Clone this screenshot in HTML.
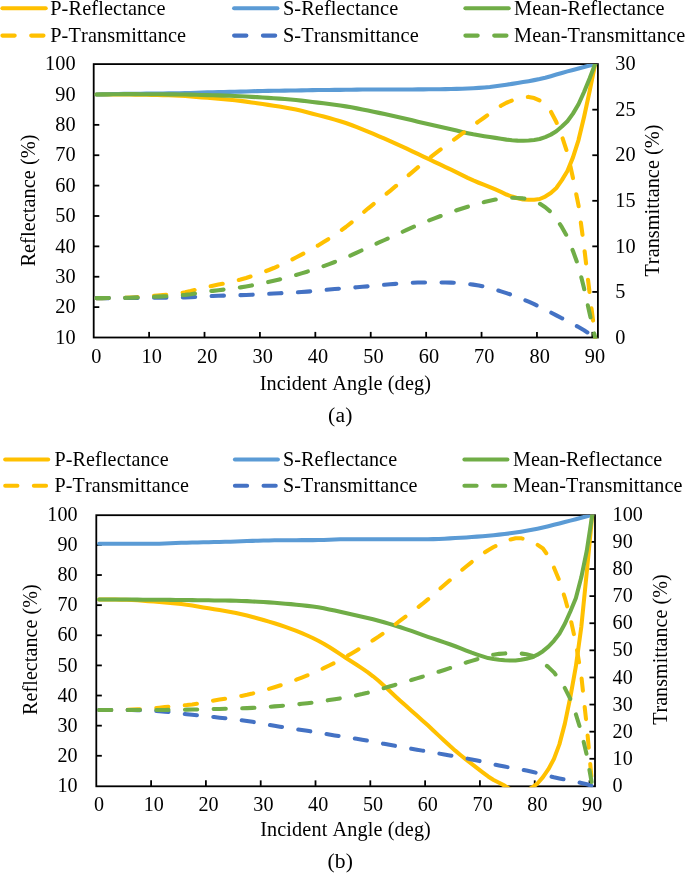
<!DOCTYPE html>
<html><head><meta charset="utf-8"><title>Reflectance and Transmittance</title>
<style>
html,body{margin:0;padding:0;background:#fff;}
svg{display:block;}
text{font-family:'Liberation Serif', 'Times New Roman', serif;fill:#000;font-kerning:none;}
</style></head>
<body>
<svg width="685" height="874" viewBox="0 0 685 874" style="will-change:transform">
<line x1="2.4" y1="8.3" x2="45.70" y2="8.3" stroke="#FFC000" stroke-width="4.1" stroke-linecap="round"/>
<line x1="2.4" y1="35.6" x2="43.70" y2="35.6" stroke="#FFC000" stroke-width="4.1" stroke-linecap="round" stroke-dasharray="12.30 16.50"/>
<text x="50.2" y="14.95" font-size="20.3" text-anchor="start" letter-spacing="0.13" >P-Reflectance</text>
<text x="50.2" y="41.8" font-size="20.3" text-anchor="start" letter-spacing="0.13" >P-Transmittance</text>
<line x1="234.1" y1="8.3" x2="277.40" y2="8.3" stroke="#5B9BD5" stroke-width="4.1" stroke-linecap="round"/>
<line x1="234.1" y1="35.6" x2="275.40" y2="35.6" stroke="#4472C4" stroke-width="4.1" stroke-linecap="round" stroke-dasharray="12.30 16.50"/>
<text x="282.9" y="14.95" font-size="20.3" text-anchor="start" letter-spacing="0.13" >S-Reflectance</text>
<text x="282.9" y="41.8" font-size="20.3" text-anchor="start" letter-spacing="0.13" >S-Transmittance</text>
<line x1="465.4" y1="8.3" x2="508.70" y2="8.3" stroke="#70AD47" stroke-width="4.1" stroke-linecap="round"/>
<line x1="465.4" y1="35.6" x2="506.70" y2="35.6" stroke="#70AD47" stroke-width="4.1" stroke-linecap="round" stroke-dasharray="12.30 16.50"/>
<text x="514.0" y="14.95" font-size="20.3" text-anchor="start" letter-spacing="0.13" >Mean-Reflectance</text>
<text x="514.0" y="41.8" font-size="20.3" text-anchor="start" letter-spacing="0.13" >Mean-Transmittance</text>
<rect x="93.7" y="64.10" width="504.20" height="273.40" fill="none" stroke="#000" stroke-width="1.8"/>
<text x="75.7" y="343.7" font-size="20.3" text-anchor="end" letter-spacing="0.13" >10</text>
<line x1="93.7" y1="307.12" x2="99.30" y2="307.12" stroke="#000" stroke-width="1.8"/>
<text x="75.7" y="313.32" font-size="20.3" text-anchor="end" letter-spacing="0.13" >20</text>
<line x1="93.7" y1="276.74" x2="99.30" y2="276.74" stroke="#000" stroke-width="1.8"/>
<text x="75.7" y="282.94" font-size="20.3" text-anchor="end" letter-spacing="0.13" >30</text>
<line x1="93.7" y1="246.37" x2="99.30" y2="246.37" stroke="#000" stroke-width="1.8"/>
<text x="75.7" y="252.57" font-size="20.3" text-anchor="end" letter-spacing="0.13" >40</text>
<line x1="93.7" y1="215.99" x2="99.30" y2="215.99" stroke="#000" stroke-width="1.8"/>
<text x="75.7" y="222.19" font-size="20.3" text-anchor="end" letter-spacing="0.13" >50</text>
<line x1="93.7" y1="185.61" x2="99.30" y2="185.61" stroke="#000" stroke-width="1.8"/>
<text x="75.7" y="191.81" font-size="20.3" text-anchor="end" letter-spacing="0.13" >60</text>
<line x1="93.7" y1="155.23" x2="99.30" y2="155.23" stroke="#000" stroke-width="1.8"/>
<text x="75.7" y="161.43" font-size="20.3" text-anchor="end" letter-spacing="0.13" >70</text>
<line x1="93.7" y1="124.86" x2="99.30" y2="124.86" stroke="#000" stroke-width="1.8"/>
<text x="75.7" y="131.06" font-size="20.3" text-anchor="end" letter-spacing="0.13" >80</text>
<line x1="93.7" y1="94.48" x2="99.30" y2="94.48" stroke="#000" stroke-width="1.8"/>
<text x="75.7" y="100.68" font-size="20.3" text-anchor="end" letter-spacing="0.13" >90</text>
<text x="75.7" y="70.3" font-size="20.3" text-anchor="end" letter-spacing="0.13" >100</text>
<text x="615.3" y="343.7" font-size="20.3" text-anchor="start" letter-spacing="0.13" >0</text>
<line x1="597.9" y1="291.93" x2="592.30" y2="291.93" stroke="#000" stroke-width="1.8"/>
<text x="615.3" y="298.13" font-size="20.3" text-anchor="start" letter-spacing="0.13" >5</text>
<line x1="597.9" y1="246.37" x2="592.30" y2="246.37" stroke="#000" stroke-width="1.8"/>
<text x="615.3" y="252.57" font-size="20.3" text-anchor="start" letter-spacing="0.13" >10</text>
<line x1="597.9" y1="200.80" x2="592.30" y2="200.80" stroke="#000" stroke-width="1.8"/>
<text x="615.3" y="207.0" font-size="20.3" text-anchor="start" letter-spacing="0.13" >15</text>
<line x1="597.9" y1="155.23" x2="592.30" y2="155.23" stroke="#000" stroke-width="1.8"/>
<text x="615.3" y="161.43" font-size="20.3" text-anchor="start" letter-spacing="0.13" >20</text>
<line x1="597.9" y1="109.67" x2="592.30" y2="109.67" stroke="#000" stroke-width="1.8"/>
<text x="615.3" y="115.87" font-size="20.3" text-anchor="start" letter-spacing="0.13" >25</text>
<text x="615.3" y="70.3" font-size="20.3" text-anchor="start" letter-spacing="0.13" >30</text>
<text x="96.47" y="362.5" font-size="20.3" text-anchor="middle" letter-spacing="0.13" >0</text>
<line x1="149.11" y1="337.5" x2="149.11" y2="331.90" stroke="#000" stroke-width="1.8"/>
<text x="151.88" y="362.5" font-size="20.3" text-anchor="middle" letter-spacing="0.13" >10</text>
<line x1="204.51" y1="337.5" x2="204.51" y2="331.90" stroke="#000" stroke-width="1.8"/>
<text x="207.28" y="362.5" font-size="20.3" text-anchor="middle" letter-spacing="0.13" >20</text>
<line x1="259.92" y1="337.5" x2="259.92" y2="331.90" stroke="#000" stroke-width="1.8"/>
<text x="262.69" y="362.5" font-size="20.3" text-anchor="middle" letter-spacing="0.13" >30</text>
<line x1="315.33" y1="337.5" x2="315.33" y2="331.90" stroke="#000" stroke-width="1.8"/>
<text x="318.1" y="362.5" font-size="20.3" text-anchor="middle" letter-spacing="0.13" >40</text>
<line x1="370.73" y1="337.5" x2="370.73" y2="331.90" stroke="#000" stroke-width="1.8"/>
<text x="373.5" y="362.5" font-size="20.3" text-anchor="middle" letter-spacing="0.13" >50</text>
<line x1="426.14" y1="337.5" x2="426.14" y2="331.90" stroke="#000" stroke-width="1.8"/>
<text x="428.91" y="362.5" font-size="20.3" text-anchor="middle" letter-spacing="0.13" >60</text>
<line x1="481.55" y1="337.5" x2="481.55" y2="331.90" stroke="#000" stroke-width="1.8"/>
<text x="484.32" y="362.5" font-size="20.3" text-anchor="middle" letter-spacing="0.13" >70</text>
<line x1="536.95" y1="337.5" x2="536.95" y2="331.90" stroke="#000" stroke-width="1.8"/>
<text x="539.72" y="362.5" font-size="20.3" text-anchor="middle" letter-spacing="0.13" >80</text>
<line x1="592.36" y1="337.5" x2="592.36" y2="331.90" stroke="#000" stroke-width="1.8"/>
<text x="595.13" y="362.5" font-size="20.3" text-anchor="middle" letter-spacing="0.13" >90</text>
<clipPath id="clipa"><rect x="90.70" y="64.10" width="510.20" height="274.30"/></clipPath>
<g clip-path="url(#clipa)" fill="none" stroke-width="4.10" stroke-linecap="round" stroke-linejoin="round">
<path d="M96.47,94.48 L102.01,94.48 L107.55,94.48 L113.09,94.48 L118.63,94.48 L124.17,94.48 L129.71,94.51 L135.25,94.58 L140.80,94.69 L146.34,94.81 L151.88,94.93 L157.42,95.05 L162.96,95.18 L168.50,95.32 L174.04,95.49 L179.58,95.69 L185.12,95.98 L190.66,96.38 L196.20,96.85 L201.74,97.34 L207.28,97.82 L212.82,98.27 L218.36,98.72 L223.91,99.19 L229.45,99.69 L234.99,100.25 L240.53,100.89 L246.07,101.62 L251.61,102.41 L257.15,103.22 L262.69,104.05 L268.23,104.86 L273.77,105.67 L279.31,106.53 L284.85,107.44 L290.39,108.45 L295.93,109.59 L301.47,110.87 L307.02,112.25 L312.56,113.68 L318.10,115.13 L323.64,116.59 L329.18,118.08 L334.72,119.63 L340.26,121.27 L345.80,123.03 L351.34,124.98 L356.88,127.10 L362.42,129.34 L367.96,131.65 L373.50,133.97 L379.04,136.30 L384.58,138.70 L390.13,141.13 L395.67,143.61 L401.21,146.12 L406.75,148.67 L412.29,151.27 L417.83,153.90 L423.37,156.55 L428.91,159.18 L434.45,161.81 L439.99,164.43 L445.53,167.06 L451.07,169.70 L456.61,172.36 L462.15,175.07 L467.69,177.85 L473.24,180.45 L478.78,182.73 L484.32,184.89 L489.86,187.14 L495.40,189.47 L500.94,191.88 L506.48,194.53 L512.02,196.56 L517.56,198.29 L523.10,199.50 L528.64,199.74 L534.18,199.74 L539.72,199.00 L545.26,196.55 L550.80,193.08 L556.35,188.02 L561.89,180.14 L567.43,171.03 L572.97,157.36 L578.51,140.04 L584.05,116.96 L589.59,91.44 L595.13,64.10" stroke="#FFC000"/>
<path d="M96.47,94.48 L102.01,94.33 L107.55,94.19 L113.09,94.07 L118.63,93.96 L124.17,93.87 L129.71,93.80 L135.25,93.73 L140.80,93.68 L146.34,93.62 L151.88,93.57 L157.42,93.51 L162.96,93.46 L168.50,93.41 L174.04,93.34 L179.58,93.26 L185.12,93.13 L190.66,92.95 L196.20,92.73 L201.74,92.52 L207.28,92.35 L212.82,92.22 L218.36,92.10 L223.91,91.98 L229.45,91.87 L234.99,91.74 L240.53,91.60 L246.07,91.43 L251.61,91.27 L257.15,91.11 L262.69,90.98 L268.23,90.88 L273.77,90.79 L279.31,90.70 L284.85,90.62 L290.39,90.53 L295.93,90.43 L301.47,90.34 L307.02,90.24 L312.56,90.15 L318.10,90.07 L323.64,90.00 L329.18,89.94 L334.72,89.88 L340.26,89.83 L345.80,89.77 L351.34,89.70 L356.88,89.62 L362.42,89.54 L367.96,89.49 L373.50,89.47 L379.04,89.47 L384.58,89.47 L390.13,89.47 L395.67,89.47 L401.21,89.47 L406.75,89.46 L412.29,89.43 L417.83,89.40 L423.37,89.36 L428.91,89.31 L434.45,89.26 L439.99,89.19 L445.53,89.09 L451.07,88.99 L456.61,88.86 L462.15,88.69 L467.69,88.47 L473.24,88.19 L478.78,87.87 L484.32,87.49 L489.86,86.99 L495.40,86.32 L500.94,85.54 L506.48,84.69 L512.02,83.85 L517.56,83.00 L523.10,82.10 L528.64,81.15 L534.18,80.12 L539.72,78.99 L545.26,77.67 L550.80,76.17 L556.35,74.57 L561.89,72.94 L567.43,71.39 L572.97,69.91 L578.51,68.44 L584.05,66.98 L589.59,65.53 L595.13,64.10" stroke="#5B9BD5"/>
<path d="M96.47,94.48 L102.01,94.40 L107.55,94.34 L113.09,94.27 L118.63,94.22 L124.17,94.17 L129.71,94.15 L135.25,94.16 L140.80,94.18 L146.34,94.22 L151.88,94.25 L157.42,94.28 L162.96,94.32 L168.50,94.36 L174.04,94.42 L179.58,94.48 L185.12,94.56 L190.66,94.67 L196.20,94.79 L201.74,94.93 L207.28,95.09 L212.82,95.24 L218.36,95.41 L223.91,95.58 L229.45,95.78 L234.99,96.00 L240.53,96.24 L246.07,96.53 L251.61,96.84 L257.15,97.17 L262.69,97.52 L268.23,97.87 L273.77,98.23 L279.31,98.61 L284.85,99.03 L290.39,99.49 L295.93,100.01 L301.47,100.61 L307.02,101.25 L312.56,101.92 L318.10,102.60 L323.64,103.30 L329.18,104.01 L334.72,104.76 L340.26,105.55 L345.80,106.40 L351.34,107.34 L356.88,108.36 L362.42,109.44 L367.96,110.57 L373.50,111.72 L379.04,112.88 L384.58,114.08 L390.13,115.30 L395.67,116.54 L401.21,117.79 L406.75,119.06 L412.29,120.35 L417.83,121.65 L423.37,122.95 L428.91,124.25 L434.45,125.53 L439.99,126.81 L445.53,128.08 L451.07,129.34 L456.61,130.61 L462.15,131.88 L467.69,133.16 L473.24,134.32 L478.78,135.30 L484.32,136.19 L489.86,137.06 L495.40,137.90 L500.94,138.71 L506.48,139.61 L512.02,140.20 L517.56,140.64 L523.10,140.80 L528.64,140.44 L534.18,139.93 L539.72,138.99 L545.26,137.11 L550.80,134.62 L556.35,131.29 L561.89,126.54 L567.43,121.21 L572.97,113.63 L578.51,104.24 L584.05,91.97 L589.59,78.49 L595.13,64.10" stroke="#70AD47"/>
<path d="M96.47,298.13 L102.01,298.11 L107.55,298.06 L113.09,297.98 L118.63,297.88 L124.17,297.77 L129.71,297.58 L135.25,297.27 L140.80,296.89 L146.34,296.47 L151.88,296.03 L157.42,295.60 L162.96,295.13 L168.50,294.61 L174.04,294.01 L179.58,293.30 L185.12,292.34 L190.66,291.09 L196.20,289.68 L201.74,288.25 L207.28,286.92 L212.82,285.74 L218.36,284.60 L223.91,283.47 L229.45,282.29 L234.99,281.00 L240.53,279.55 L246.07,277.93 L251.61,276.17 L257.15,274.31 L262.69,272.33 L268.23,270.23 L273.77,268.01 L279.31,265.61 L284.85,263.03 L290.39,260.32 L295.93,257.53 L301.47,254.67 L307.02,251.71 L312.56,248.63 L318.10,245.43 L323.64,242.08 L329.18,238.58 L334.72,234.90 L340.26,231.05 L345.80,227.01 L351.34,222.67 L356.88,218.01 L362.42,213.24 L367.96,208.54 L373.50,204.06 L379.04,199.67 L384.58,195.28 L390.13,190.79 L395.67,186.18 L401.21,181.50 L406.75,176.78 L412.29,172.07 L417.83,167.41 L423.37,162.84 L428.91,158.40 L434.45,154.11 L439.99,149.93 L445.53,145.83 L451.07,141.78 L456.61,137.74 L462.15,133.68 L467.69,129.55 L473.24,125.38 L478.78,121.37 L484.32,117.48 L489.86,113.43 L495.40,109.46 L500.94,105.82 L506.48,102.77 L512.02,100.55 L517.56,98.85 L523.10,97.47 L528.64,96.91 L534.18,98.05 L539.72,100.55 L545.26,104.81 L550.80,111.49 L556.35,122.07 L561.89,136.10 L567.43,152.96 L572.97,178.02 L578.51,205.36 L584.05,246.37 L589.59,292.84 L595.13,337.50" stroke="#FFC000" stroke-dasharray="12.30 16.50"/>
<path d="M96.47,298.13 L102.01,298.11 L107.55,298.09 L113.09,298.06 L118.63,298.02 L124.17,297.99 L129.71,297.95 L135.25,297.91 L140.80,297.86 L146.34,297.81 L151.88,297.77 L157.42,297.72 L162.96,297.67 L168.50,297.62 L174.04,297.55 L179.58,297.48 L185.12,297.38 L190.66,297.24 L196.20,296.93 L201.74,296.54 L207.28,296.22 L212.82,296.00 L218.36,295.81 L223.91,295.65 L229.45,295.49 L234.99,295.34 L240.53,295.16 L246.07,294.96 L251.61,294.73 L257.15,294.46 L262.69,294.17 L268.23,293.87 L273.77,293.57 L279.31,293.28 L284.85,292.99 L290.39,292.69 L295.93,292.38 L301.47,292.03 L307.02,291.64 L312.56,291.16 L318.10,290.63 L323.64,290.08 L329.18,289.55 L334.72,289.06 L340.26,288.60 L345.80,288.17 L351.34,287.73 L356.88,287.29 L362.42,286.82 L367.96,286.31 L373.50,285.77 L379.04,285.23 L384.58,284.72 L390.13,284.28 L395.67,283.85 L401.21,283.40 L406.75,283.00 L412.29,282.69 L417.83,282.55 L423.37,282.55 L428.91,282.55 L434.45,282.55 L439.99,282.55 L445.53,282.55 L451.07,282.58 L456.61,282.85 L462.15,283.32 L467.69,283.93 L473.24,284.61 L478.78,285.42 L484.32,286.58 L489.86,288.01 L495.40,289.63 L500.94,291.35 L506.48,293.10 L512.02,295.00 L517.56,297.08 L523.10,299.32 L528.64,301.67 L534.18,304.11 L539.72,306.76 L545.26,309.56 L550.80,312.45 L556.35,315.36 L561.89,318.23 L567.43,321.10 L572.97,324.02 L578.51,327.05 L584.05,330.27 L589.59,333.77 L595.13,337.50" stroke="#4472C4" stroke-dasharray="12.30 16.50"/>
<path d="M96.47,298.13 L102.01,298.11 L107.55,298.07 L113.09,298.02 L118.63,297.95 L124.17,297.88 L129.71,297.76 L135.25,297.59 L140.80,297.38 L146.34,297.14 L151.88,296.90 L157.42,296.66 L162.96,296.40 L168.50,296.11 L174.04,295.78 L179.58,295.39 L185.12,294.86 L190.66,294.17 L196.20,293.31 L201.74,292.39 L207.28,291.57 L212.82,290.87 L218.36,290.21 L223.91,289.56 L229.45,288.89 L234.99,288.17 L240.53,287.36 L246.07,286.44 L251.61,285.45 L257.15,284.38 L262.69,283.25 L268.23,282.05 L273.77,280.79 L279.31,279.44 L284.85,278.01 L290.39,276.51 L295.93,274.95 L301.47,273.35 L307.02,271.67 L312.56,269.90 L318.10,268.03 L323.64,266.08 L329.18,264.06 L334.72,261.98 L340.26,259.83 L345.80,257.59 L351.34,255.20 L356.88,252.65 L362.42,250.03 L367.96,247.43 L373.50,244.92 L379.04,242.45 L384.58,240.00 L390.13,237.53 L395.67,235.01 L401.21,232.45 L406.75,229.89 L412.29,227.38 L417.83,224.98 L423.37,222.69 L428.91,220.47 L434.45,218.33 L439.99,216.24 L445.53,214.19 L451.07,212.18 L456.61,210.29 L462.15,208.50 L467.69,206.74 L473.24,204.99 L478.78,203.39 L484.32,202.03 L489.86,200.72 L495.40,199.55 L500.94,198.59 L506.48,197.93 L512.02,197.78 L517.56,197.97 L523.10,198.40 L528.64,199.29 L534.18,201.08 L539.72,203.66 L545.26,207.19 L550.80,211.97 L556.35,218.71 L561.89,227.16 L567.43,237.03 L572.97,251.02 L578.51,266.20 L584.05,288.32 L589.59,313.31 L595.13,337.50" stroke="#70AD47" stroke-dasharray="12.30 16.50"/>
</g>
<text x="0" y="0" font-size="20.3" text-anchor="middle" letter-spacing="0.06" transform="translate(34.6,200.5) rotate(-90)">Reflectance (%)</text>
<text x="0" y="0" font-size="20.3" text-anchor="middle" letter-spacing="0.04" transform="translate(659.3,200.5) rotate(-90)">Transmittance (%)</text>
<text x="345.4" y="389.6" font-size="20.3" text-anchor="middle" letter-spacing="0.13" >Incident Angle (deg)</text>
<text x="340.3" y="421.7" font-size="21.6" text-anchor="middle" letter-spacing="0.13" >(a)</text>
<line x1="5.2" y1="459.4" x2="48.20" y2="459.4" stroke="#FFC000" stroke-width="4.05" stroke-linecap="round"/>
<line x1="5.2" y1="485.7" x2="46.20" y2="485.7" stroke="#FFC000" stroke-width="4.05" stroke-linecap="round" stroke-dasharray="12.23 16.41"/>
<text x="54.4" y="465.7" font-size="20.08" text-anchor="start" letter-spacing="0.13" >P-Reflectance</text>
<text x="54.4" y="492.05" font-size="20.08" text-anchor="start" letter-spacing="0.13" >P-Transmittance</text>
<line x1="234.9" y1="459.4" x2="277.90" y2="459.4" stroke="#5B9BD5" stroke-width="4.05" stroke-linecap="round"/>
<line x1="234.9" y1="485.7" x2="275.90" y2="485.7" stroke="#4472C4" stroke-width="4.05" stroke-linecap="round" stroke-dasharray="12.23 16.41"/>
<text x="282.9" y="465.7" font-size="20.08" text-anchor="start" letter-spacing="0.13" >S-Reflectance</text>
<text x="282.9" y="492.05" font-size="20.08" text-anchor="start" letter-spacing="0.13" >S-Transmittance</text>
<line x1="464.4" y1="459.4" x2="507.40" y2="459.4" stroke="#70AD47" stroke-width="4.05" stroke-linecap="round"/>
<line x1="464.4" y1="485.7" x2="505.40" y2="485.7" stroke="#70AD47" stroke-width="4.05" stroke-linecap="round" stroke-dasharray="12.23 16.41"/>
<text x="513.0" y="465.7" font-size="20.08" text-anchor="start" letter-spacing="0.13" >Mean-Reflectance</text>
<text x="513.0" y="492.05" font-size="20.08" text-anchor="start" letter-spacing="0.13" >Mean-Transmittance</text>
<rect x="96.3" y="515.20" width="498.70" height="271.10" fill="none" stroke="#000" stroke-width="1.8"/>
<text x="77.8" y="792.0" font-size="20.08" text-anchor="end" letter-spacing="0.13" >10</text>
<line x1="96.3" y1="755.78" x2="101.84" y2="755.78" stroke="#000" stroke-width="1.8"/>
<text x="77.8" y="761.88" font-size="20.08" text-anchor="end" letter-spacing="0.13" >20</text>
<line x1="96.3" y1="725.66" x2="101.84" y2="725.66" stroke="#000" stroke-width="1.8"/>
<text x="77.8" y="731.76" font-size="20.08" text-anchor="end" letter-spacing="0.13" >30</text>
<line x1="96.3" y1="695.53" x2="101.84" y2="695.53" stroke="#000" stroke-width="1.8"/>
<text x="77.8" y="701.63" font-size="20.08" text-anchor="end" letter-spacing="0.13" >40</text>
<line x1="96.3" y1="665.41" x2="101.84" y2="665.41" stroke="#000" stroke-width="1.8"/>
<text x="77.8" y="671.51" font-size="20.08" text-anchor="end" letter-spacing="0.13" >50</text>
<line x1="96.3" y1="635.29" x2="101.84" y2="635.29" stroke="#000" stroke-width="1.8"/>
<text x="77.8" y="641.39" font-size="20.08" text-anchor="end" letter-spacing="0.13" >60</text>
<line x1="96.3" y1="605.17" x2="101.84" y2="605.17" stroke="#000" stroke-width="1.8"/>
<text x="77.8" y="611.27" font-size="20.08" text-anchor="end" letter-spacing="0.13" >70</text>
<line x1="96.3" y1="575.04" x2="101.84" y2="575.04" stroke="#000" stroke-width="1.8"/>
<text x="77.8" y="581.14" font-size="20.08" text-anchor="end" letter-spacing="0.13" >80</text>
<line x1="96.3" y1="544.92" x2="101.84" y2="544.92" stroke="#000" stroke-width="1.8"/>
<text x="77.8" y="551.02" font-size="20.08" text-anchor="end" letter-spacing="0.13" >90</text>
<text x="77.8" y="520.9" font-size="20.08" text-anchor="end" letter-spacing="0.13" >100</text>
<text x="612.5" y="792.0" font-size="20.08" text-anchor="start" letter-spacing="0.13" >0</text>
<line x1="595.0" y1="758.79" x2="589.46" y2="758.79" stroke="#000" stroke-width="1.8"/>
<text x="612.5" y="764.89" font-size="20.08" text-anchor="start" letter-spacing="0.13" >10</text>
<line x1="595.0" y1="731.68" x2="589.46" y2="731.68" stroke="#000" stroke-width="1.8"/>
<text x="612.5" y="737.78" font-size="20.08" text-anchor="start" letter-spacing="0.13" >20</text>
<line x1="595.0" y1="704.57" x2="589.46" y2="704.57" stroke="#000" stroke-width="1.8"/>
<text x="612.5" y="710.67" font-size="20.08" text-anchor="start" letter-spacing="0.13" >30</text>
<line x1="595.0" y1="677.46" x2="589.46" y2="677.46" stroke="#000" stroke-width="1.8"/>
<text x="612.5" y="683.56" font-size="20.08" text-anchor="start" letter-spacing="0.13" >40</text>
<line x1="595.0" y1="650.35" x2="589.46" y2="650.35" stroke="#000" stroke-width="1.8"/>
<text x="612.5" y="656.45" font-size="20.08" text-anchor="start" letter-spacing="0.13" >50</text>
<line x1="595.0" y1="623.24" x2="589.46" y2="623.24" stroke="#000" stroke-width="1.8"/>
<text x="612.5" y="629.34" font-size="20.08" text-anchor="start" letter-spacing="0.13" >60</text>
<line x1="595.0" y1="596.13" x2="589.46" y2="596.13" stroke="#000" stroke-width="1.8"/>
<text x="612.5" y="602.23" font-size="20.08" text-anchor="start" letter-spacing="0.13" >70</text>
<line x1="595.0" y1="569.02" x2="589.46" y2="569.02" stroke="#000" stroke-width="1.8"/>
<text x="612.5" y="575.12" font-size="20.08" text-anchor="start" letter-spacing="0.13" >80</text>
<line x1="595.0" y1="541.91" x2="589.46" y2="541.91" stroke="#000" stroke-width="1.8"/>
<text x="612.5" y="548.01" font-size="20.08" text-anchor="start" letter-spacing="0.13" >90</text>
<text x="612.5" y="520.9" font-size="20.08" text-anchor="start" letter-spacing="0.13" >100</text>
<text x="99.04" y="810.5" font-size="20.08" text-anchor="middle" letter-spacing="0.13" >0</text>
<line x1="151.10" y1="785.9" x2="151.10" y2="780.36" stroke="#000" stroke-width="1.8"/>
<text x="153.84" y="810.5" font-size="20.08" text-anchor="middle" letter-spacing="0.13" >10</text>
<line x1="205.90" y1="785.9" x2="205.90" y2="780.36" stroke="#000" stroke-width="1.8"/>
<text x="208.64" y="810.5" font-size="20.08" text-anchor="middle" letter-spacing="0.13" >20</text>
<line x1="260.71" y1="785.9" x2="260.71" y2="780.36" stroke="#000" stroke-width="1.8"/>
<text x="263.45" y="810.5" font-size="20.08" text-anchor="middle" letter-spacing="0.13" >30</text>
<line x1="315.51" y1="785.9" x2="315.51" y2="780.36" stroke="#000" stroke-width="1.8"/>
<text x="318.25" y="810.5" font-size="20.08" text-anchor="middle" letter-spacing="0.13" >40</text>
<line x1="370.31" y1="785.9" x2="370.31" y2="780.36" stroke="#000" stroke-width="1.8"/>
<text x="373.05" y="810.5" font-size="20.08" text-anchor="middle" letter-spacing="0.13" >50</text>
<line x1="425.11" y1="785.9" x2="425.11" y2="780.36" stroke="#000" stroke-width="1.8"/>
<text x="427.85" y="810.5" font-size="20.08" text-anchor="middle" letter-spacing="0.13" >60</text>
<line x1="479.92" y1="785.9" x2="479.92" y2="780.36" stroke="#000" stroke-width="1.8"/>
<text x="482.66" y="810.5" font-size="20.08" text-anchor="middle" letter-spacing="0.13" >70</text>
<line x1="534.72" y1="785.9" x2="534.72" y2="780.36" stroke="#000" stroke-width="1.8"/>
<text x="537.46" y="810.5" font-size="20.08" text-anchor="middle" letter-spacing="0.13" >80</text>
<line x1="589.52" y1="785.9" x2="589.52" y2="780.36" stroke="#000" stroke-width="1.8"/>
<text x="592.26" y="810.5" font-size="20.08" text-anchor="middle" letter-spacing="0.13" >90</text>
<clipPath id="clipb"><rect x="93.30" y="514.80" width="504.70" height="272.40"/></clipPath>
<g clip-path="url(#clipb)" fill="none" stroke-width="4.05" stroke-linecap="round" stroke-linejoin="round">
<path d="M99.04,599.44 L104.52,599.46 L110.00,599.50 L115.48,599.56 L120.96,599.65 L126.44,599.74 L131.92,599.93 L137.40,600.26 L142.88,600.67 L148.36,601.12 L153.84,601.55 L159.32,601.97 L164.80,602.40 L170.28,602.86 L175.76,603.38 L181.24,603.96 L186.72,604.67 L192.20,605.51 L197.68,606.44 L203.16,607.39 L208.64,608.33 L214.12,609.22 L219.60,610.11 L225.09,611.02 L230.57,611.99 L236.05,613.06 L241.53,614.26 L247.01,615.58 L252.49,617.01 L257.97,618.50 L263.45,620.05 L268.93,621.64 L274.41,623.29 L279.89,625.04 L285.37,626.88 L290.85,628.84 L296.33,630.92 L301.81,633.13 L307.29,635.49 L312.77,638.01 L318.25,640.71 L323.73,643.71 L329.21,647.03 L334.69,650.55 L340.17,654.14 L345.65,657.69 L351.13,661.19 L356.61,664.72 L362.09,668.36 L367.57,672.17 L373.05,676.26 L378.53,680.75 L384.01,685.64 L389.49,690.76 L394.97,695.92 L400.45,700.96 L405.93,705.84 L411.41,710.69 L416.89,715.55 L422.37,720.42 L427.85,725.35 L433.33,730.42 L438.81,735.60 L444.29,740.77 L449.77,745.83 L455.25,750.66 L460.73,755.24 L466.21,759.65 L471.70,763.95 L477.18,768.15 L482.66,772.35 L488.14,776.48 L493.62,779.95 L499.10,782.79 L504.58,785.60 L510.06,789.12 L515.54,792.06 L521.02,792.71 L526.50,790.86 L531.98,787.56 L537.46,783.50 L542.94,777.13 L548.42,769.19 L553.90,758.95 L559.38,744.39 L564.86,723.63 L570.34,697.02 L575.82,666.68 L581.30,627.04 L586.78,572.16 L592.26,514.80" stroke="#FFC000"/>
<path d="M99.04,543.81 L104.52,543.78 L110.00,543.76 L115.48,543.74 L120.96,543.72 L126.44,543.72 L131.92,543.72 L137.40,543.72 L142.88,543.72 L148.36,543.72 L153.84,543.72 L159.32,543.65 L164.80,543.47 L170.28,543.24 L175.76,543.00 L181.24,542.81 L186.72,542.68 L192.20,542.56 L197.68,542.45 L203.16,542.33 L208.64,542.21 L214.12,542.08 L219.60,541.95 L225.09,541.82 L230.57,541.67 L236.05,541.52 L241.53,541.33 L247.01,541.10 L252.49,540.87 L257.97,540.67 L263.45,540.52 L268.93,540.42 L274.41,540.33 L279.89,540.25 L285.37,540.20 L290.85,540.16 L296.33,540.15 L301.81,540.14 L307.29,540.13 L312.77,540.12 L318.25,540.10 L323.73,539.99 L329.21,539.77 L334.69,539.51 L340.17,539.29 L345.65,539.20 L351.13,539.20 L356.61,539.20 L362.09,539.20 L367.57,539.20 L373.05,539.20 L378.53,539.20 L384.01,539.20 L389.49,539.20 L394.97,539.20 L400.45,539.20 L405.93,539.20 L411.41,539.20 L416.89,539.20 L422.37,539.20 L427.85,539.20 L433.33,539.13 L438.81,538.94 L444.29,538.68 L449.77,538.38 L455.25,538.08 L460.73,537.78 L466.21,537.43 L471.70,537.05 L477.18,536.63 L482.66,536.19 L488.14,535.71 L493.62,535.19 L499.10,534.62 L504.58,534.00 L510.06,533.33 L515.54,532.56 L521.02,531.70 L526.50,530.75 L531.98,529.73 L537.46,528.66 L542.94,527.49 L548.42,526.20 L553.90,524.83 L559.38,523.43 L564.86,522.03 L570.34,520.63 L575.82,519.21 L581.30,517.77 L586.78,516.29 L592.26,514.80" stroke="#5B9BD5"/>
<path d="M99.04,599.44 L104.52,599.46 L110.00,599.48 L115.48,599.51 L120.96,599.53 L126.44,599.56 L131.92,599.60 L137.40,599.63 L142.88,599.67 L148.36,599.71 L153.84,599.74 L159.32,599.79 L164.80,599.84 L170.28,599.89 L175.76,599.95 L181.24,600.01 L186.72,600.07 L192.20,600.14 L197.68,600.21 L203.16,600.28 L208.64,600.35 L214.12,600.41 L219.60,600.48 L225.09,600.55 L230.57,600.63 L236.05,600.74 L241.53,600.90 L247.01,601.13 L252.49,601.40 L257.97,601.71 L263.45,602.03 L268.93,602.38 L274.41,602.76 L279.89,603.19 L285.37,603.65 L290.85,604.14 L296.33,604.67 L301.81,605.25 L307.29,605.88 L312.77,606.59 L318.25,607.37 L323.73,608.29 L329.21,609.39 L334.69,610.59 L340.17,611.83 L345.65,613.06 L351.13,614.25 L356.61,615.45 L362.09,616.68 L367.57,617.97 L373.05,619.32 L378.53,620.77 L384.01,622.30 L389.49,623.90 L394.97,625.56 L400.45,627.28 L405.93,629.07 L411.41,630.96 L416.89,632.91 L422.37,634.87 L427.85,636.79 L433.33,638.67 L438.81,640.52 L444.29,642.38 L449.77,644.28 L455.25,646.25 L460.73,648.37 L466.21,650.57 L471.70,652.66 L477.18,654.58 L482.66,656.38 L488.14,658.10 L493.62,659.09 L499.10,659.77 L504.58,660.29 L510.06,660.56 L515.54,660.47 L521.02,659.82 L526.50,658.79 L531.98,657.35 L537.46,654.69 L542.94,651.18 L548.42,646.67 L553.90,640.82 L559.38,633.66 L564.86,623.73 L570.34,611.47 L575.82,598.20 L581.30,577.31 L586.78,550.71 L592.26,514.80" stroke="#70AD47"/>
<path d="M99.04,709.99 L104.52,709.98 L110.00,709.94 L115.48,709.88 L120.96,709.81 L126.44,709.72 L131.92,709.59 L137.40,709.38 L142.88,709.10 L148.36,708.76 L153.84,708.37 L159.32,707.73 L164.80,707.01 L170.28,706.48 L175.76,706.03 L181.24,705.58 L186.72,705.07 L192.20,704.42 L197.68,703.56 L203.16,702.56 L208.64,701.51 L214.12,700.50 L219.60,699.58 L225.09,698.70 L230.57,697.82 L236.05,696.91 L241.53,695.92 L247.01,694.81 L252.49,693.54 L257.97,692.11 L263.45,690.55 L268.93,688.91 L274.41,687.22 L279.89,685.48 L285.37,683.65 L290.85,681.73 L296.33,679.72 L301.81,677.62 L307.29,675.44 L312.77,673.14 L318.25,670.73 L323.73,668.20 L329.21,665.53 L334.69,662.74 L340.17,659.84 L345.65,656.82 L351.13,653.70 L356.61,650.48 L362.09,647.16 L367.57,643.75 L373.05,640.25 L378.53,636.65 L384.01,632.79 L389.49,628.72 L394.97,624.56 L400.45,620.43 L405.93,616.40 L411.41,612.36 L416.89,608.25 L422.37,603.97 L427.85,599.43 L433.33,594.65 L438.81,589.79 L444.29,585.01 L449.77,580.31 L455.25,575.61 L460.73,570.98 L466.21,566.48 L471.70,562.06 L477.18,557.74 L482.66,553.76 L488.14,550.20 L493.62,547.03 L499.10,544.45 L504.58,541.88 L510.06,539.66 L515.54,538.31 L521.02,538.28 L526.50,539.49 L531.98,541.71 L537.46,544.74 L542.94,548.49 L548.42,556.20 L553.90,567.41 L559.38,580.63 L564.86,597.81 L570.34,617.82 L575.82,643.01 L581.30,675.77 L586.78,726.32 L592.26,785.90" stroke="#FFC000" stroke-dasharray="12.23 16.41"/>
<path d="M99.04,709.99 L104.52,709.99 L110.00,709.99 L115.48,709.99 L120.96,709.99 L126.44,709.99 L131.92,710.04 L137.40,710.16 L142.88,710.34 L148.36,710.56 L153.84,710.81 L159.32,711.15 L164.80,711.62 L170.28,712.18 L175.76,712.84 L181.24,713.54 L186.72,714.22 L192.20,714.84 L197.68,715.39 L203.16,715.92 L208.64,716.46 L214.12,717.04 L219.60,717.65 L225.09,718.26 L230.57,718.90 L236.05,719.57 L241.53,720.27 L247.01,721.03 L252.49,721.87 L257.97,722.83 L263.45,723.84 L268.93,724.85 L274.41,725.81 L279.89,726.68 L285.37,727.52 L290.85,728.33 L296.33,729.14 L301.81,729.98 L307.29,730.86 L312.77,731.77 L318.25,732.69 L323.73,733.62 L329.21,734.54 L334.69,735.41 L340.17,736.25 L345.65,737.06 L351.13,737.87 L356.61,738.73 L362.09,739.65 L367.57,740.65 L373.05,741.71 L378.53,742.78 L384.01,743.84 L389.49,744.86 L394.97,745.84 L400.45,746.80 L405.93,747.76 L411.41,748.71 L416.89,749.67 L422.37,750.63 L427.85,751.59 L433.33,752.55 L438.81,753.52 L444.29,754.49 L449.77,755.46 L455.25,756.41 L460.73,757.38 L466.21,758.37 L471.70,759.41 L477.18,760.54 L482.66,761.76 L488.14,763.03 L493.62,764.30 L499.10,765.50 L504.58,766.59 L510.06,767.58 L515.54,768.54 L521.02,769.52 L526.50,770.56 L531.98,771.73 L537.46,773.06 L542.94,774.47 L548.42,775.90 L553.90,777.26 L559.38,778.48 L564.86,779.59 L570.34,780.66 L575.82,781.75 L581.30,782.94 L586.78,784.32 L592.26,785.90" stroke="#4472C4" stroke-dasharray="12.23 16.41"/>
<path d="M99.04,709.99 L104.52,709.99 L110.00,709.99 L115.48,709.99 L120.96,709.99 L126.44,709.99 L131.92,709.99 L137.40,709.99 L142.88,709.99 L148.36,709.99 L153.84,709.99 L159.32,709.98 L164.80,709.94 L170.28,709.88 L175.76,709.81 L181.24,709.72 L186.72,709.62 L192.20,709.51 L197.68,709.40 L203.16,709.29 L208.64,709.18 L214.12,709.07 L219.60,708.95 L225.09,708.82 L230.57,708.68 L236.05,708.52 L241.53,708.34 L247.01,708.14 L252.49,707.89 L257.97,707.58 L263.45,707.20 L268.93,706.80 L274.41,706.37 L279.89,705.93 L285.37,705.47 L290.85,704.97 L296.33,704.43 L301.81,703.85 L307.29,703.23 L312.77,702.54 L318.25,701.78 L323.73,700.97 L329.21,700.12 L334.69,699.24 L340.17,698.33 L345.65,697.37 L351.13,696.36 L356.61,695.27 L362.09,694.08 L367.57,692.75 L373.05,691.27 L378.53,689.71 L384.01,688.10 L389.49,686.52 L394.97,684.94 L400.45,683.32 L405.93,681.68 L411.41,680.03 L416.89,678.38 L422.37,676.73 L427.85,675.07 L433.33,673.39 L438.81,671.70 L444.29,669.96 L449.77,668.15 L455.25,666.26 L460.73,664.37 L466.21,662.56 L471.70,660.90 L477.18,659.22 L482.66,657.50 L488.14,655.93 L493.62,654.66 L499.10,653.87 L504.58,653.41 L510.06,653.11 L515.54,653.12 L521.02,653.54 L526.50,654.25 L531.98,655.63 L537.46,658.49 L542.94,662.46 L548.42,667.13 L553.90,672.35 L559.38,679.35 L564.86,688.16 L570.34,699.07 L575.82,714.02 L581.30,731.94 L586.78,755.08 L592.26,785.90" stroke="#70AD47" stroke-dasharray="12.23 16.41"/>
</g>
<text x="0" y="0" font-size="20.08" text-anchor="middle" letter-spacing="0.06" transform="translate(37.0,649.55) rotate(-90)">Reflectance (%)</text>
<text x="0" y="0" font-size="20.08" text-anchor="middle" letter-spacing="0.04" transform="translate(666.8,649.55) rotate(-90)">Transmittance (%)</text>
<text x="345.6" y="836.4" font-size="20.2" text-anchor="middle" letter-spacing="0.13" >Incident Angle (deg)</text>
<text x="340.2" y="868.4" font-size="21.6" text-anchor="middle" letter-spacing="0.13" >(b)</text>
</svg>
</body></html>
